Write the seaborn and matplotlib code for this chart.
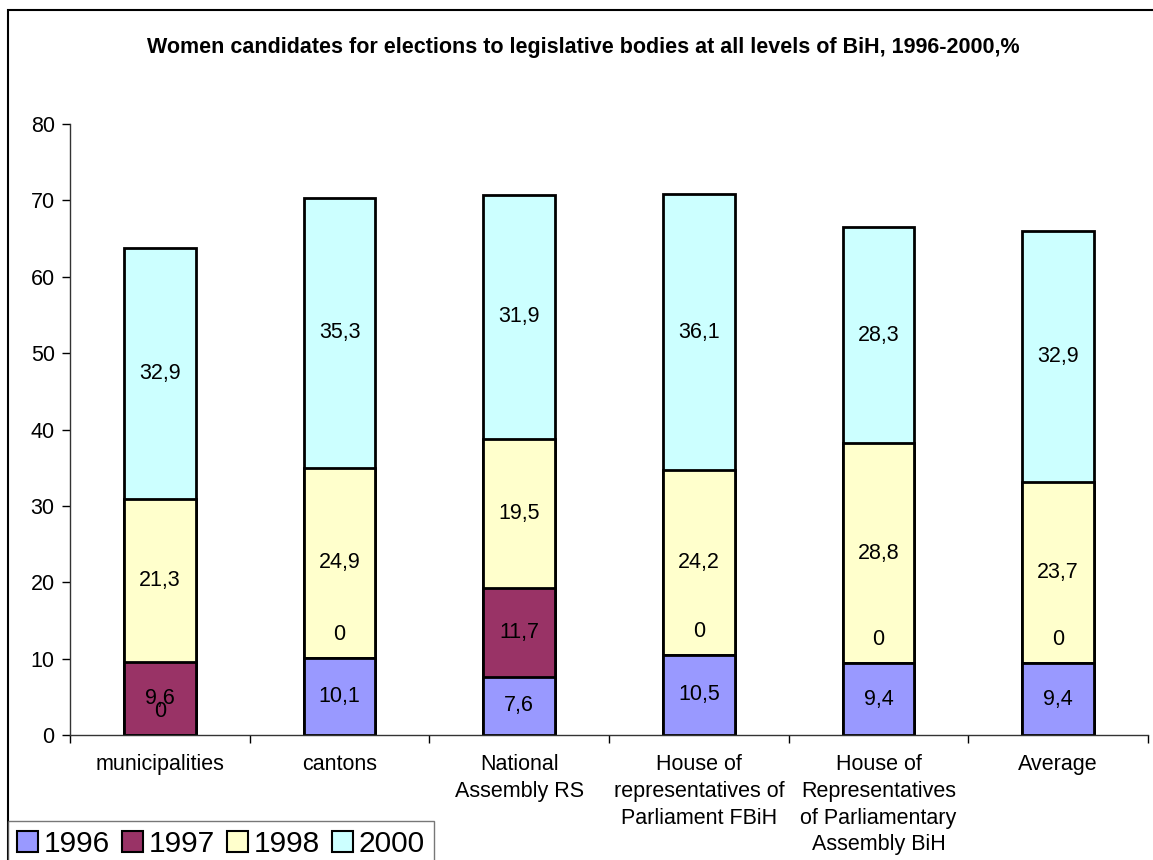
import matplotlib
matplotlib.use("Agg")
import matplotlib.pyplot as plt
from matplotlib.patches import Rectangle, Patch
import numpy as np
import pandas as pd
import seaborn as sns

# data
categories = ["municipalities", "cantons", "National\nAssembly RS",
              "House of\nrepresentatives of\nParliament FBiH",
              "House of\nRepresentatives\nof Parliamentary\nAssembly BiH",
              "Average"]
years = ["1996", "1997", "1998", "2000"]
v1996 = [0, 10.1, 7.6, 10.5, 9.4, 9.4]
v1997 = [9.6, 0, 11.7, 0, 0, 0]
v1998 = [21.3, 24.9, 19.5, 24.2, 28.8, 23.7]
v2000 = [32.9, 35.3, 31.9, 36.1, 28.3, 32.9]
colors = ["#9999FF", "#993366", "#FFFFCC", "#CCFFFF"]
title = "Women candidates for elections to legislative bodies at all levels of BiH, 1996-2000,%"

sns.set_style("white")
plt.rcParams["font.family"] = ["Liberation Sans", "DejaVu Sans"]
plt.rcParams["text.color"] = "black"
plt.rcParams["xtick.color"] = "black"
plt.rcParams["ytick.color"] = "black"

vals = pd.DataFrame({"1996": v1996, "1997": v1997, "1998": v1998, "2000": v2000},
                    index=categories)
cum = vals.cumsum(axis=1)

fig = plt.figure(figsize=(11.53, 8.6), dpi=100)
ax = fig.add_axes([70 / 1153, 125 / 860, (1148 - 70) / 1153, (735 - 124) / 860])

# stacked look: draw cumulative totals from top layer down
for yr, col in zip(years[::-1], colors[::-1]):
    d = pd.DataFrame({"cat": categories, "val": cum[yr].values})
    sns.barplot(data=d, x="cat", y="val", color=col, width=0.4,
                edgecolor="black", linewidth=2, saturation=1, ax=ax)

# segment labels (zero segments sit a bit above their base, as in the original)
for yr in years:
    base = cum[yr].values - vals[yr].values
    for i, v in enumerate(vals[yr].values):
        y = base[i] + v / 2 if v > 0 else base[i] + 3.1
        ax.text(i, y, f"{v:g}".replace(".", ","), ha="center", va="center",
                fontsize=15.5, color="black")

ax.set_ylim(0, 80)
ax.set_xlim(-0.5, 5.5)
ax.set_yticks(range(0, 81, 10))
ax.set_xticks(np.arange(-0.5, 6, 1))
ax.set_xticklabels([])
ax.set_xticks(range(6), minor=True)
ax.set_xticklabels(categories, minor=True, fontsize=15.5, linespacing=1.35)
ax.tick_params(axis="x", which="minor", length=0, pad=14)
ax.tick_params(axis="x", which="major", length=6, width=1, direction="out", bottom=True)
ax.tick_params(axis="y", length=6, width=1, direction="out", left=True, labelsize=15.5, pad=5)
ax.set_xlabel("")
ax.set_ylabel("")
sns.despine(ax=ax)
for s in ["left", "bottom"]:
    ax.spines[s].set_color("#333333")
    ax.spines[s].set_linewidth(1)

fig.text(0.506, 1 - 48 / 860, title, ha="center", va="center",
         fontsize=15.5, fontweight="bold", color="black")

# outer chart border
fig.patches.append(Rectangle((8 / 1153, -0.1), 1.2, 1.1 - 10 / 860, transform=fig.transFigure,
                             fill=False, edgecolor="black", linewidth=1.5))

handles = [Patch(facecolor=c, edgecolor="black", linewidth=1.5) for c in colors]
leg = fig.legend(handles, years, loc="lower left", bbox_to_anchor=(8 / 1153, -0.008),
                 ncol=4, fontsize=21.5, frameon=True, fancybox=False,
                 handlelength=0.7, handleheight=0.7, handletextpad=0.2,
                 columnspacing=0.4, borderpad=0.3, borderaxespad=0)
leg.get_frame().set_edgecolor("#555555")
leg.get_frame().set_linewidth(1)

fig.savefig("out.png", dpi=100)
